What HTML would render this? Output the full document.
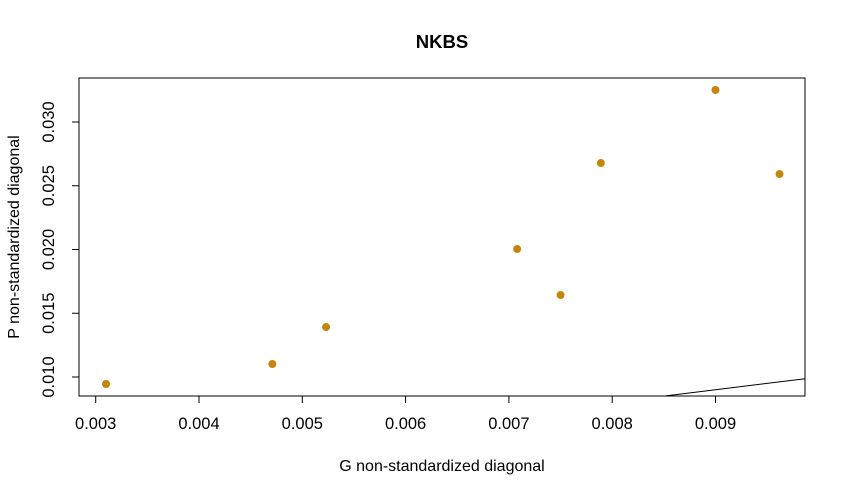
<!DOCTYPE html>
<html><head><meta charset="utf-8"><style>body{margin:0;background:#fff}svg{display:block;font-family:"Liberation Sans",sans-serif}</style></head>
<body>
<svg id="chart" width="846" height="494" viewBox="0 0 846 494">
<text x="442" y="48" text-anchor="middle" font-size="18.5" font-weight="bold">NKBS</text>
<text x="442" y="471" text-anchor="middle" font-size="16">G non-standardized diagonal</text>
<text transform="translate(19,237) rotate(-90)" text-anchor="middle" font-size="16">P non-standardized diagonal</text>
<defs><clipPath id="clip"><rect x="79" y="78" width="726" height="318"/></clipPath></defs>
<g id="marks"></g>
<rect x="79" y="78" width="726" height="318" fill="none" stroke="#000" stroke-width="1"/>
</svg>
<script>
const xs=[0.0031,0.00471,0.00523,0.00708,0.0075,0.00789,0.009,0.00962];
const ys=[0.00945,0.01102,0.01392,0.02004,0.01643,0.02678,0.03251,0.02592];
const xTicks=[0.003,0.004,0.005,0.006,0.007,0.008,0.009];
const yTicks=[0.010,0.015,0.020,0.025,0.030];
const X=v=>95.7+(v-0.003)*103300;
const Y=v=>377-(v-0.010)*12750;
const NS='http://www.w3.org/2000/svg';
const g=document.getElementById('marks');
function mk(t,a,p){const e=document.createElementNS(NS,t);for(const k in a)e.setAttribute(k,a[k]);(p||g).appendChild(e);return e;}
xTicks.forEach(v=>{
 const l=mk('line',{x1:X(v),x2:X(v),y1:396,y2:403,stroke:'#000'});
 
 
 const t=mk('text',{x:X(v),y:429,'text-anchor':'middle','font-size':16.5});
 
 
 t.textContent=v.toFixed(3);
});
yTicks.forEach(v=>{
 const l=mk('line',{x1:72,x2:79,y1:Y(v),y2:Y(v),stroke:'#000'});
 
 
 const t=mk('text',{transform:`translate(54,${Y(v)}) rotate(-90)`,'text-anchor':'middle','font-size':16.5});
 
 
 t.textContent=v.toFixed(3);
});
const ref=mk('line',{x1:X(0.002),y1:Y(0.002),x2:X(0.011),y2:Y(0.011),stroke:'#000','clip-path':'url(#clip)'});


xs.forEach((v,i)=>{
 const c=mk('circle',{cx:X(v),cy:Y(ys[i]),r:4,fill:'#C4860A'});
 
 
});
</script>
</body></html>
